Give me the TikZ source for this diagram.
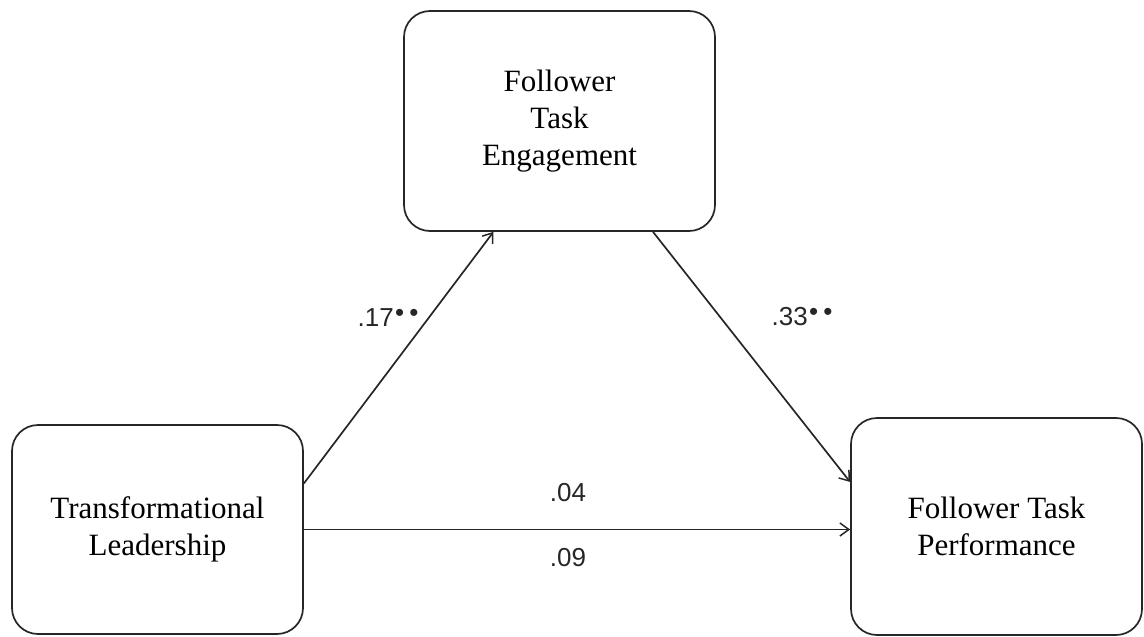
\documentclass[tikz,border=0pt]{standalone}
\usepackage{fontspec}
\setmainfont{Liberation Serif}
\newfontfamily\labfont{Liberation Sans}
\usetikzlibrary{arrows.meta}
\tikzset{
  boxnode/.style={draw=black!85, line width=1.7pt, rounded corners=26pt, align=center,
    font=\fontsize{31}{37}\selectfont, inner sep=0pt},
  arr/.style={draw=black!85, line width=1.7pt, -{Straight Barb[length=9pt,width=13pt,line width=1.5pt]}},
  lab/.style={font=\labfont\fontsize{26}{30}\selectfont, inner sep=0pt, text=black!85}
}
\newcommand{\twostars}{\kern0.05em\raisebox{0.22em}{•\kern0.2em•}}
\begin{document}
\begin{tikzpicture}[x=1pt,y=-1pt]
\useasboundingbox (0,0) rectangle (1144,637);
\node[boxnode, minimum width=311pt, minimum height=220pt] (T) at (559.5,121) {Follower\\Task\\Engagement};
\node[boxnode, minimum width=291pt, minimum height=209pt] (L) at (157.5,529.5) {Transformational\\Leadership};
\node[boxnode, minimum width=291pt, minimum height=217pt] (R) at (996.5,526.5) {Follower Task\\Performance};
\draw[arr] ([yshift=46pt]L.east) -- ([xshift=-66pt]T.south);
\draw[arr] ([xshift=93.5pt]T.south) -- ([yshift=44.5pt]R.west);
\draw[arr] (L.east) -- (L.east -| R.west);
\node[lab] (l1) at (388,318) {.17\twostars};
\node[lab] (l2) at (802,317) {.33\twostars};
\node[lab] (l3) at (568,493) {.04};
\node[lab] (l4) at (568,558) {.09};
\end{tikzpicture}
\end{document}
